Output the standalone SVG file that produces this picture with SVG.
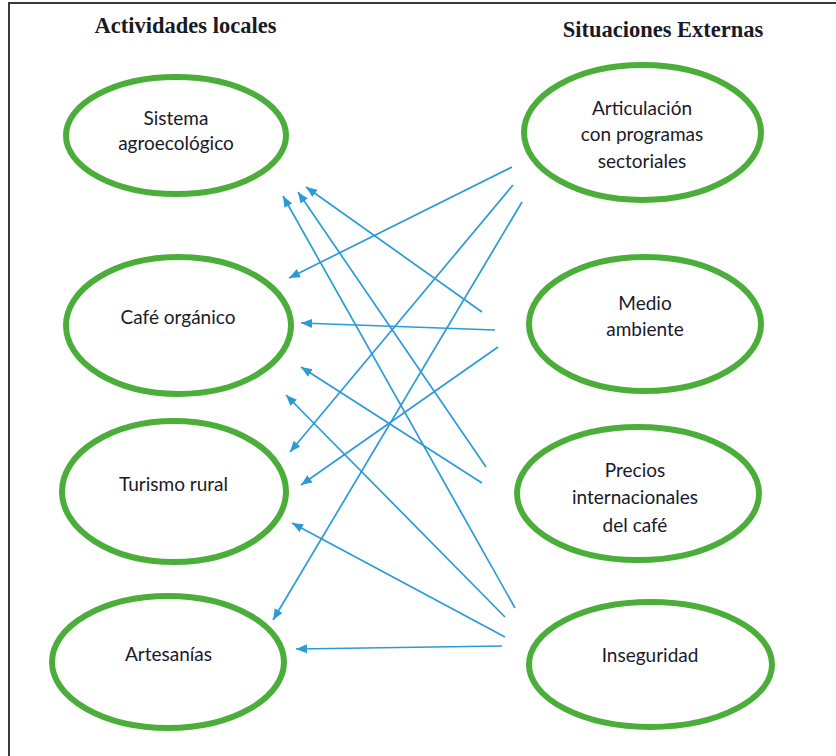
<svg xmlns="http://www.w3.org/2000/svg" width="836" height="756" viewBox="0 0 836 756">
  <defs>
    <style>
      .frame { fill: none; stroke: #3a3a3a; stroke-width: 2; }
      .title { font-family: "Liberation Serif", "Times New Roman", serif; font-weight: bold; font-size: 22.5px; fill: #1a1a24; text-anchor: middle; }
      .node ellipse { fill: #ffffff; stroke: #4bae3a; stroke-width: 6; }
      .node text { font-family: Lato, "Noto Sans", sans-serif; font-size: 19px; fill: #1a1a2a; text-anchor: middle; }
      .links line { stroke: #2b9bd8; stroke-width: 1.7; marker-end: url(#head); }
    </style>
    <marker id="head" markerUnits="userSpaceOnUse" markerWidth="12" markerHeight="10" refX="11" refY="4.5" orient="auto">
      <path d="M0,0 L11,4.5 L0,9 z" fill="#2b9bd8"/>
    </marker>
  </defs>

  <rect width="836" height="756" fill="#ffffff"/>
  <!-- page frame: top and left edges only -->
  <path class="frame" d="M9,756 V3 H836"/>

  <text class="title" x="185.5" y="33">Actividades locales</text>
  <text class="title" x="663" y="37">Situaciones Externas</text>

  <!-- local activities -->
  <g id="sistema" class="node">
    <ellipse cx="176" cy="135.5" rx="110" ry="58.5"/>
    <text x="176" y="125">Sistema</text>
    <text x="176" y="150">agroecológico</text>
  </g>
  <g id="cafe" class="node">
    <ellipse cx="178.5" cy="325.5" rx="112.5" ry="68.5"/>
    <text x="178" y="324">Café orgánico</text>
  </g>
  <g id="turismo" class="node">
    <ellipse cx="174" cy="491.5" rx="112" ry="70.5"/>
    <text x="173.5" y="491">Turismo rural</text>
  </g>
  <g id="artesanias" class="node">
    <ellipse cx="168" cy="662" rx="116" ry="66"/>
    <text x="168.5" y="661">Artesanías</text>
  </g>

  <!-- external situations -->
  <g id="articulacion" class="node">
    <ellipse cx="642.5" cy="132.5" rx="118.5" ry="67.5"/>
    <text x="642" y="115">Articulación</text>
    <text x="642" y="141">con programas</text>
    <text x="642" y="167.5">sectoriales</text>
  </g>
  <g id="medio" class="node">
    <ellipse cx="645" cy="324" rx="116" ry="67"/>
    <text x="645" y="310">Medio</text>
    <text x="645" y="336">ambiente</text>
  </g>
  <g id="precios" class="node">
    <ellipse cx="638" cy="493.5" rx="121" ry="66.5"/>
    <text x="635" y="477">Precios</text>
    <text x="635" y="504">internacionales</text>
    <text x="635" y="532">del café</text>
  </g>
  <g id="inseguridad" class="node">
    <ellipse cx="650.5" cy="664.5" rx="121.5" ry="62.5"/>
    <text x="650" y="662">Inseguridad</text>
  </g>

  <!-- influences: external situation -> local activity -->
  <g id="connectors" class="links">
    <line x1="512" y1="167" x2="289" y2="278"/>
    <line x1="513" y1="185" x2="290" y2="452"/>
    <line x1="522" y1="202" x2="273" y2="620"/>
    <line x1="482" y1="312" x2="306" y2="187"/>
    <line x1="495" y1="330" x2="301" y2="323"/>
    <line x1="498" y1="347" x2="301" y2="485"/>
    <line x1="486" y1="467" x2="298" y2="192"/>
    <line x1="482" y1="483" x2="301" y2="367"/>
    <line x1="515" y1="608" x2="283" y2="196"/>
    <line x1="505" y1="617" x2="286" y2="395"/>
    <line x1="505" y1="637" x2="292" y2="523"/>
    <line x1="502" y1="646" x2="296" y2="649"/>
  </g>
</svg>
